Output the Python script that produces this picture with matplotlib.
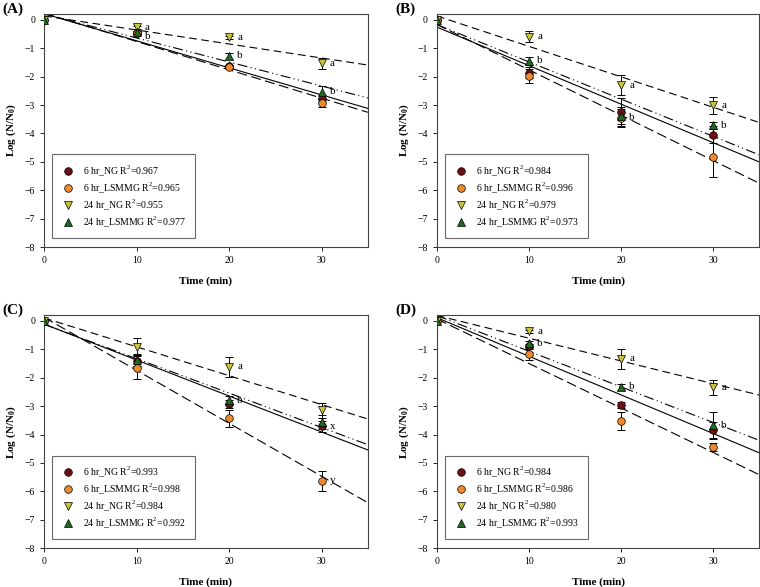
import matplotlib.pyplot as plt
import numpy as np

plt.rcParams['font.family'] = 'Liberation Serif'
plt.rcParams['mathtext.fontset'] = 'custom'
plt.rcParams['mathtext.rm'] = 'Liberation Serif'
plt.rcParams['mathtext.bf'] = 'Liberation Serif:bold'

# czas pomiaru (min)
time = [0, 10, 20, 30]

series_names = ['6 hr_NG', '6 hr_LSMMG', '24 hr_NG', '24 hr_LSMMG']
colors = ['#6e1013', '#ec8a2c', '#c9c43a', '#1f6b1f']
markers = ['o', 'o', 'v', '^']
# styl linii regresji dla kazdej serii
line_dash = [None, (9, 4), (7, 4), (9, 3, 1, 3, 1, 3)]

# panel A
a_vals = [[0, -0.45, -1.63, -2.78],
          [0, -0.47, -1.65, -2.93],
          [0, -0.27, -0.62, -1.53],
          [0, -0.44, -1.27, -2.54]]
a_err = [[0, 0.05, 0.05, 0.12],
         [0, 0.05, 0.05, 0.15],
         [0, 0.05, 0.05, 0.2],
         [0, 0.05, 0.1, 0.2]]
a_r2 = ['0.967', '0.965', '0.955', '0.977']
# (seria, czas, litera, przesuniecie w pionie)
a_letters = [(2, 10, 'a', 0), (2, 20, 'a', 0), (2, 30, 'a', 0),
             (3, 10, 'b', -0.15), (3, 20, 'b', 0), (3, 30, 'b', 0)]

# panel B
b_vals = [[0, -1.86, -3.26, -4.05],
          [0, -1.97, -3.44, -4.83],
          [0, -0.59, -2.3, -3.0],
          [0, -1.45, -3.38, -3.72]]
b_err = [[0, 0.2, 0.5, 0.3],
         [0, 0.25, 0.3, 0.7],
         [0, 0.18, 0.35, 0.3],
         [0, 0.15, 0.3, 0.12]]
b_r2 = ['0.984', '0.996', '0.979', '0.973']
b_letters = [(2, 10, 'a', 0), (2, 20, 'a', 0), (2, 30, 'a', 0),
             (3, 10, 'b', 0), (1, 20, 'b', 0), (3, 30, 'b', 0)]

# panel C
c_vals = [[0, -1.4, -2.93, -3.71],
          [0, -1.64, -3.42, -5.62],
          [0, -0.91, -1.62, -3.15],
          [0, -1.38, -2.8, -3.56]]
c_err = [[0, 0.2, 0.15, 0.2],
         [0, 0.42, 0.3, 0.35],
         [0, 0.3, 0.35, 0.25],
         [0, 0.2, 0.15, 0.25]]
c_r2 = ['0.993', '0.998', '0.984', '0.992']
c_letters = [(2, 20, 'a', 0), (3, 20, 'b', 0), (0, 30, 'x', 0), (1, 30, 'y', 0)]

# panel D
d_vals = [[0, -0.9, -2.96, -3.84],
          [0, -1.17, -3.53, -4.43],
          [0, -0.36, -1.34, -2.34],
          [0, -0.79, -2.32, -3.67]]
d_err = [[0, 0.1, 0.1, 0.3],
         [0, 0.2, 0.32, 0.15],
         [0, 0.05, 0.35, 0.25],
         [0, 0.1, 0.1, 0.45]]
d_r2 = ['0.984', '0.986', '0.980', '0.993']
d_letters = [(2, 10, 'a', 0), (2, 20, 'a', 0), (2, 30, 'a', 0),
             (3, 10, 'b', 0), (3, 20, 'b', 0), (3, 30, 'b', 0)]

panels = [('(A)', a_vals, a_err, a_r2, a_letters),
          ('(B)', b_vals, b_err, b_r2, b_letters),
          ('(C)', c_vals, c_err, c_r2, c_letters),
          ('(D)', d_vals, d_err, d_r2, d_letters)]

# pozycje osi [left, bottom, width, height]
positions = [[0.058, 0.579, 0.426, 0.397],
             [0.575, 0.579, 0.424, 0.397],
             [0.058, 0.066, 0.426, 0.397],
             [0.575, 0.066, 0.424, 0.397]]

fig = plt.figure(figsize=(7.6, 5.87), dpi=100)

for (title, vals, errs, r2, letters), pos in zip(panels, positions):
    ax = fig.add_axes(pos)
    x = np.array(time)
    xx = np.array([0, 35])
    # linie regresji
    for i in range(4):
        k, b = np.polyfit(x, vals[i], 1)
        ln, = ax.plot(xx, k*xx + b, color='black', lw=0.8, zorder=1)
        if line_dash[i] is not None:
            ln.set_dashes(line_dash[i])
    handles = []
    for i in range(4):
        ax.errorbar(x, vals[i], yerr=errs[i], fmt='none', ecolor='black',
                    elinewidth=0.7, capsize=3, capthick=0.7, zorder=2)
        h, = ax.plot(x, vals[i], linestyle='none', marker=markers[i], markersize=5.5,
                     markerfacecolor=colors[i], markeredgecolor='black',
                     markeredgewidth=0.5, zorder=3)
        handles.append(h)
    for s, t, txt, dy in letters:
        ax.text(t + 0.9, vals[s][time.index(t)] + dy, txt, fontsize=8, va='center', ha='left')
    labels = [n + ' R$^2$=' + r for n, r in zip(series_names, r2)]
    leg = ax.legend(handles, labels, loc='lower left', fontsize=7, frameon=True,
                    fancybox=False, edgecolor='#444444', borderpad=0.9,
                    labelspacing=0.25, handletextpad=0.8, handlelength=1.5,
                    bbox_to_anchor=(0.01, 0.02))
    leg.get_frame().set_linewidth(0.8)
    ax.set_xlim(0, 35)
    ax.set_ylim(-8, 0.2)
    ax.set_xticks([0, 10, 20, 30])
    ax.set_yticks(range(-8, 1))
    ax.tick_params(labelsize=7, length=3, width=0.6, direction='out')
    for sp in ax.spines.values():
        sp.set_linewidth(0.8)
        sp.set_color('#444444')
    ax.set_xlabel('Time (min)', fontsize=8, fontweight='bold', labelpad=8)
    ax.set_ylabel(r'Log (N/N$_\mathbf{0}$)', fontsize=8, fontweight='bold', labelpad=5)
    ax.text(-0.13, 1.05, title, transform=ax.transAxes, fontsize=11, fontweight='bold',
            ha='left', va='top')

plt.savefig('out.png', dpi=100)
